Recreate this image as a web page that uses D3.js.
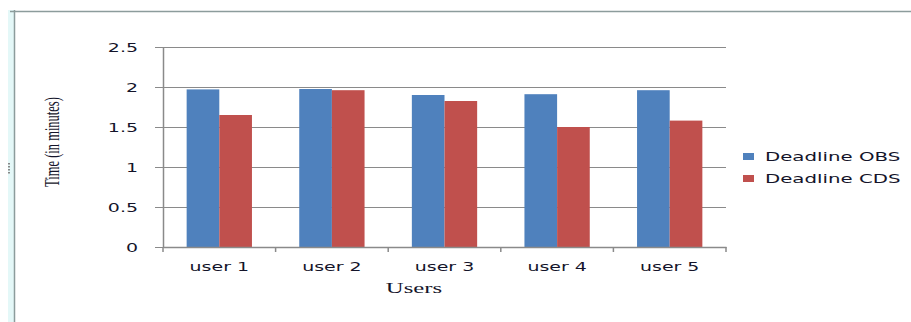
<!DOCTYPE html>
<html>
<head>
<meta charset="utf-8">
<script src="https://cdn.jsdelivr.net/npm/d3@7.9.0/dist/d3.min.js"></script>
<style>
  body { margin: 0; background: #fff; }
  svg { display: block; }
  text { fill: #14142a; }
</style>
</head>
<body>
<svg id="chart" width="911" height="322"></svg>
<script>
// chart data
const users = ['user 1', 'user 2', 'user 3', 'user 4', 'user 5'];
const seriesNames = ['Deadline OBS', 'Deadline CDS'];
const obsValues = [1.97, 1.975, 1.90, 1.91, 1.96];
const cdsValues = [1.65, 1.96, 1.825, 1.50, 1.58];
const yTicks = [0, 0.5, 1, 1.5, 2, 2.5];
const colors = ['#4F81BD', '#C0504D'];

const svg = d3.select('#chart');
const stretch = 1.65; // the picture is wider than it is tall, text too

// outer frame
svg.append('rect').attr('x', 8).attr('y', 10).attr('width', 6).attr('height', 312).attr('fill', '#e4f8f8');
svg.append('line').attr('x1', 10).attr('x2', 911).attr('y1', 11.5).attr('y2', 11.5)
  .attr('stroke', '#8c9c9c').attr('stroke-width', 1.5);
svg.append('line').attr('x1', 14.5).attr('x2', 14.5).attr('y1', 10).attr('y2', 322)
  .attr('stroke', '#8c9c9c').attr('stroke-width', 1.5);
[163, 166, 169, 172].forEach(yy => {
  svg.append('rect').attr('x', 8).attr('y', yy).attr('width', 2).attr('height', 1.5).attr('fill', '#888');
});

const plotLeft = 163, plotRight = 726, plotTop = 47, plotBottom = 247;

const x0 = d3.scaleBand().domain(users).range([plotLeft, plotRight]).paddingInner(0.42).paddingOuter(0.21);
const x1 = d3.scaleBand().domain(seriesNames).range([0, x0.bandwidth()]);
const y = d3.scaleLinear().domain([0, 2.5]).range([plotBottom, plotTop]);

// gridlines + y axis
const yAxis = svg.append('g')
  .attr('transform', `translate(${plotLeft},0)`)
  .call(d3.axisLeft(y).tickValues(yTicks).tickSize(8).tickSizeOuter(0).tickFormat(d3.format('')));
yAxis.select('.domain').attr('stroke', '#8a8a8a').attr('stroke-width', 1.5);
yAxis.selectAll('.tick line').attr('stroke', '#8a8a8a').attr('stroke-width', 1.2)
  .attr('x2', plotRight - plotLeft).attr('x1', -8);
yAxis.selectAll('.tick text')
  .attr('x', 0).attr('dy', '0.36em')
  .attr('transform', `translate(-25,0) scale(${stretch},1)`)
  .style('font-family', 'DejaVu Sans, Verdana, sans-serif').style('font-size', '11.5px')
  .style('fill', '#14142a');

// bars
const data = users.map((u, i) => ({ user: u, values: [obsValues[i], cdsValues[i]] }));
const groups = svg.selectAll('g.grp').data(data).join('g')
  .attr('class', 'grp')
  .attr('transform', d => `translate(${x0(d.user)},0)`);
groups.selectAll('rect').data(d => d.values.map((v, k) => ({ v, k })))
  .join('rect')
  .attr('x', d => x1(seriesNames[d.k]))
  .attr('y', d => y(d.v))
  .attr('width', x1.bandwidth())
  .attr('height', d => y(0) - y(d.v))
  .attr('fill', d => colors[d.k]);

// x axis
const xAxis = svg.append('g')
  .attr('transform', `translate(0,${plotBottom})`)
  .call(d3.axisBottom(x0).tickSize(0).tickPadding(0));
xAxis.select('.domain').attr('stroke', '#8a8a8a').attr('stroke-width', 1.5);
xAxis.selectAll('.tick text')
  .attr('y', 0).attr('dy', 0)
  .attr('transform', `translate(0,24) scale(${stretch},1)`)
  .style('font-family', 'DejaVu Sans, Verdana, sans-serif').style('font-size', '11.5px')
  .style('fill', '#14142a');
const step = x0.step();
const edges = users.map(u => x0(u) - step * x0.paddingInner() / 2).concat([plotRight]);
svg.append('g').selectAll('line').data(edges).join('line')
  .attr('x1', d => d).attr('x2', d => d)
  .attr('y1', plotBottom).attr('y2', plotBottom + 5)
  .attr('stroke', '#8a8a8a').attr('stroke-width', 1.5);

// axis titles
svg.append('text')
  .attr('transform', `translate(414,293) scale(1.65,1)`)
  .attr('text-anchor', 'middle')
  .style('font-family', 'Liberation Serif, Times New Roman, serif').style('font-size', '15px')
  .text('Users');
svg.append('text')
  .attr('transform', `translate(59,142) rotate(-90) scale(1,1.7)`)
  .attr('text-anchor', 'middle')
  .style('font-family', 'Liberation Serif, Times New Roman, serif').style('font-size', '12.5px')
  .text('Time (in minutes)');

// legend
const legend = svg.append('g').attr('transform', 'translate(743,157)');
seriesNames.forEach((name, k) => {
  const row = legend.append('g').attr('transform', `translate(0,${k * 22})`);
  row.append('rect').attr('x', 0).attr('y', -4).attr('width', 11).attr('height', 7).attr('fill', colors[k]);
  row.append('text')
    .attr('transform', `translate(22,0) scale(1.72,1)`)
    .attr('dy', '0.36em')
    .style('font-family', 'DejaVu Sans, Verdana, sans-serif').style('font-size', '11.5px')
    .text(name);
});
</script>
</body>
</html>
